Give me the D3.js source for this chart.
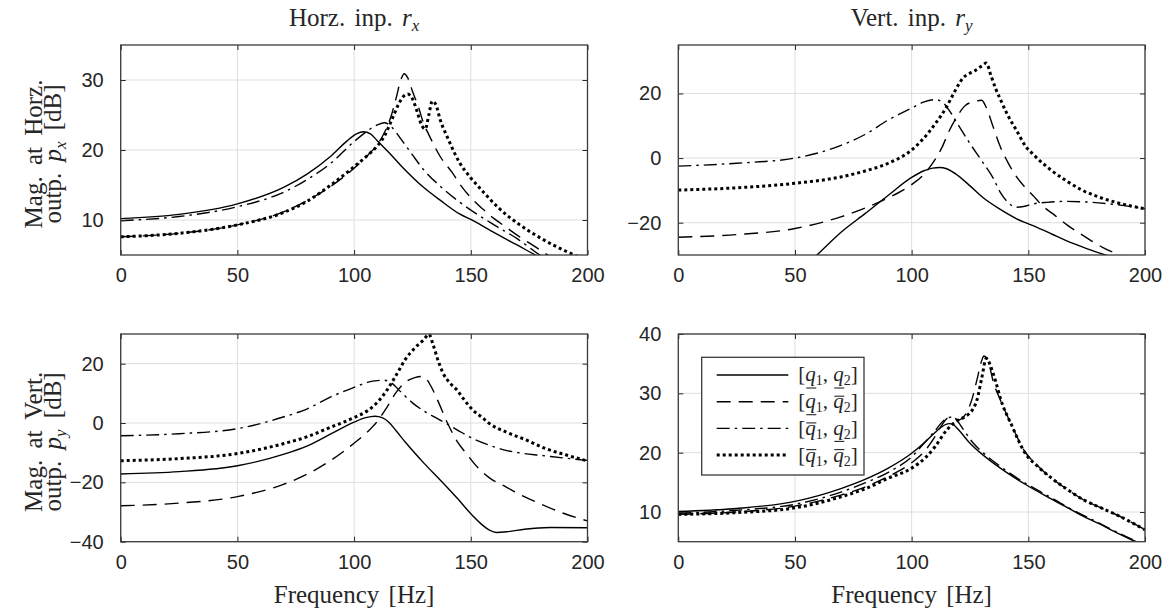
<!DOCTYPE html>
<html>
<head>
<meta charset="utf-8">
<script src="https://cdn.jsdelivr.net/npm/d3@7"></script>
<style>
  body { margin: 0; background: #fff; }
  svg { display: block; }
</style>
</head>
<body>
<svg id="fig" width="1173" height="613"></svg>
<script>
// ---- tick values ----
const freqTicks = [0, 50, 100, 150, 200];
const ticksHxHin = [10, 20, 30];
const ticksHxVin = [-20, 0, 20];
const ticksVyHin = [-40, -20, 0, 20];
const ticksVyVin = [10, 20, 30, 40];

// ---- magnitude responses [frequency Hz, dB] ----
// output p_x, input r_x
const hxHinQ1Q2 = [[0,10.2],[25,10.8],[50,12.3],[70,14.7],[80,16.6],[90,19.1],[97,21.3],[101,22.3],[104,22.6],[107,22.3],[110,21.3],[115,19.6],[120,17.8],[130,14.6],[137,12.8],[145,10.9],[151,9.9],[160,8.2],[170,6.4],[180,4.6],[190,3.2]];
const hxHinQ1Qb2 = [[0,7.6],[25,8.1],[50,9.3],[70,11.2],[80,12.8],[90,14.8],[100,17.4],[106,19.3],[110,20.8],[113,22.5],[116,25.0],[118,27.4],[120,30.0],[121.5,30.9],[123,30.3],[125,28.4],[127.5,26.2],[130,23.6],[132,22.2],[137,19.0],[142,16.8],[146,14.8],[150,13.2],[155,11.6],[160,10.2],[165,9.0],[170,7.8],[177,6.3],[183,5.0],[190,3.8]];
const hxHinQb1Q2 = [[0,9.9],[25,10.5],[50,11.9],[70,14.0],[80,15.8],[90,18.1],[100,21.2],[106,22.8],[110,23.6],[113,23.9],[116,23.3],[120,21.6],[125,19.3],[130,17.1],[137,14.8],[145,12.6],[151,11.2],[160,9.3],[170,7.3],[180,4.9],[190,3.0]];
const hxHinQb1Qb2 = [[0,7.6],[25,8.1],[50,9.3],[70,11.1],[80,12.7],[90,15.0],[100,17.6],[106,19.3],[110,20.6],[113,22.0],[116,24.2],[119,26.5],[121,27.6],[123,28.0],[125,27.3],[127,25.5],[129,23.5],[130.5,23.0],[132,25.0],[133.5,27.0],[135,26.5],[137,24.2],[140,21.8],[145,18.3],[150,16.0],[154,14.5],[162,11.7],[171,9.3],[180,7.4],[191,5.5],[200,4.2]];

// output p_x, input r_y
const hxVinQ1Q2 = [[56,-32.5],[60,-29.6],[64,-26.8],[70,-22.8],[80,-17.2],[90,-11.5],[100,-6.0],[105,-4.0],[109,-3.1],[112,-2.9],[115,-3.3],[120,-5.5],[125,-8.6],[130,-11.9],[138,-15.9],[145,-18.8],[152,-20.9],[160,-23.5],[166,-25.5],[175,-28.0],[184,-30.2],[190,-31.5]];
const hxVinQ1Qb2 = [[0,-24.5],[25,-23.7],[50,-21.8],[70,-18.1],[80,-15.5],[90,-12.3],[100,-8.2],[105,-5.2],[110,-0.5],[113,3.3],[116,8.3],[120,13.5],[123,16.3],[127,17.5],[130,17.9],[132,15.6],[135,9.5],[138,3.5],[141,-1.0],[144,-4.8],[148.5,-9.0],[152,-11.6],[156,-14.7],[161.5,-17.8],[167,-20.9],[172,-23.3],[177,-25.6],[182,-27.7],[188,-29.7],[195,-32]];
const hxVinQb1Q2 = [[0,-2.5],[25,-1.6],[50,0.0],[70,4.0],[80,7.3],[90,11.8],[100,15.5],[105,17.3],[110,18.1],[113,17.4],[117,13.8],[120,10.2],[125,4.5],[130,-0.8],[135,-6.3],[138,-10.6],[141,-13.5],[145,-15.2],[148,-15.0],[152,-14.2],[158,-13.7],[166,-13.4],[175,-13.6],[185,-14.2],[200,-15.7]];
const hxVinQb1Qb2 = [[0,-9.9],[25,-9.2],[50,-7.8],[70,-5.8],[80,-4.0],[90,-1.6],[100,2.5],[105,6.0],[110,10.5],[115,15.9],[118,20.0],[120,22.6],[122,24.8],[124,25.9],[127,27.0],[130,28.5],[132,29.4],[134,25.5],[136,21.5],[138,18.2],[141,13.5],[145,8.5],[149,3.5],[152,1.2],[159,-3.3],[166,-6.9],[173,-9.9],[180,-12.0],[188,-13.8],[200,-15.7]];

// output p_y, input r_x
const vyHinQ1Q2 = [[0,-17.2],[25,-16.4],[50,-14.4],[70,-10.5],[80,-7.7],[90,-3.7],[100,0.3],[105,1.8],[109,2.3],[112,1.8],[115,0.2],[118,-2.6],[122,-6.5],[130,-13.6],[137,-19.3],[144,-25.2],[151,-31.4],[155,-34.4],[158,-36.1],[161,-36.9],[166,-36.6],[173,-35.8],[184,-35.2],[200,-35.3]];
const vyHinQ1Qb2 = [[0,-27.9],[25,-27.0],[50,-24.8],[70,-20.6],[80,-17.2],[90,-12.6],[100,-6.8],[106,-2.8],[110,0.6],[114,5.2],[118,10.3],[122,13.8],[126,15.3],[129,15.7],[131,14.8],[133,12.3],[136,7.3],[140,0.0],[144,-6.0],[148,-10.2],[153,-15.0],[158,-18.5],[165,-21.5],[172,-24.5],[180,-27.3],[190,-30.5],[200,-33.0]];
const vyHinQb1Q2 = [[0,-4.3],[25,-3.6],[50,-1.9],[70,2.1],[80,4.8],[90,8.8],[100,12.0],[106,13.8],[110,14.3],[113,14.4],[116,13.5],[120,10.5],[125,6.8],[130,4.0],[135,1.8],[140,-0.4],[145,-2.7],[151,-5.3],[158,-7.5],[165,-9.2],[172,-10.2],[180,-10.9],[190,-11.8],[200,-12.6]];
const vyHinQb1Qb2 = [[0,-12.7],[25,-12.0],[50,-10.3],[70,-6.9],[80,-4.6],[90,-1.4],[100,1.8],[106,4.3],[110,7.0],[114,11.0],[118,16.1],[122,21.5],[126,25.3],[130,28.2],[132,29.9],[134,26.0],[136,21.0],[138,17.0],[141,13.5],[144,11.2],[147,8.0],[151,4.3],[155,1.8],[158,-0.2],[165,-3.0],[174,-5.8],[182,-8.6],[191,-10.8],[200,-12.8]];

// output p_y, input r_y
const vyVinQ1Q2 = [[0,10.1],[25,10.6],[50,11.8],[70,14.0],[80,15.5],[90,17.4],[100,19.9],[106,21.9],[110,23.4],[113,24.4],[116,24.9],[118,24.7],[120,23.9],[125,21.6],[130,19.8],[138,17.4],[149,14.6],[158,12.6],[166,10.9],[173,9.4],[181,7.9],[188,6.5],[195,5.2],[200,4.4]];
const vyVinQ1Qb2 = [[0,9.6],[25,10.0],[50,11.0],[70,12.9],[80,14.2],[90,16.0],[100,18.3],[105,20.0],[110,22.7],[113,24.7],[116,25.9],[118,25.9],[120,25.5],[123,26.4],[126,29.2],[128,32.3],[130,35.5],[131,36.3],[133,35.1],[135,31.9],[138,28.9],[143,24.5],[148.5,20.2],[154,17.8],[159,16.0],[166,14.0],[173.5,12.1],[180,10.9],[188,9.5],[194,8.3],[200,7.0]];
const vyVinQb1Q2 = [[0,9.8],[25,10.3],[50,11.3],[70,13.4],[80,14.9],[90,16.7],[100,19.3],[106,21.9],[110,23.7],[114,25.5],[117,26.0],[119,25.6],[122,24.0],[126,21.8],[130,20.2],[138,17.7],[149,14.8],[158,12.8],[166,11.0],[181,8.0],[195,5.3],[200,4.5]];
const vyVinQb1Qb2 = [[0,9.6],[25,9.9],[50,10.7],[70,12.6],[80,13.9],[90,15.7],[100,17.4],[106,19.2],[110,21.0],[115,23.8],[120,25.5],[123,26.1],[126,27.2],[128,28.9],[130,32.5],[132,35.9],[134,34.4],[136,32.0],[138,29.2],[143,24.5],[148.5,20.0],[154,17.7],[159,16.0],[166,14.0],[173.5,12.1],[180,10.9],[188,9.5],[194,8.3],[200,7.0]];

// legend: bound combination per entry ("lo" = underline, "hi" = bar)
const legendBounds = [["lo","lo"],["lo","hi"],["hi","lo"],["hi","hi"]];

// ---- line styles in series order: solid, dashed, dash-dot, dotted ----
const lineStyles = [
  { dash: null,         width: 1.4 },
  { dash: "14,8",       width: 1.4 },
  { dash: "13,5,2.5,5", width: 1.4 },
  { dash: "3,3",        width: 3.0 }
];

const TEXT = "#262626";
const SERIF = "'Liberation Serif', 'Times New Roman', serif";
const SANS = "'Liberation Sans', Arial, Helvetica, sans-serif";

const svg = d3.select("#fig");
const defs = svg.append("defs");

const panels = [
  { x: 120.7, y: 45,  w: 466.8, h: 210,   yDomain: [5, 35],   yTicks: ticksHxHin,
    series: [hxHinQ1Q2, hxHinQ1Qb2, hxHinQb1Q2, hxHinQb1Qb2],
    title: ["Horz. inp. ", "r", "x"], ylab: ["Mag. at Horz.", "x"] },
  { x: 678.3, y: 45,  w: 466.7, h: 210,   yDomain: [-30, 35], yTicks: ticksHxVin,
    series: [hxVinQ1Q2, hxVinQ1Qb2, hxVinQb1Q2, hxVinQb1Qb2],
    title: ["Vert. inp. ", "r", "y"] },
  { x: 120.7, y: 334, w: 466.8, h: 207.7, yDomain: [-40, 30], yTicks: ticksVyHin,
    series: [vyHinQ1Q2, vyHinQ1Qb2, vyHinQb1Q2, vyHinQb1Qb2],
    ylab: ["Mag. at Vert.", "y"], xlab: true },
  { x: 678.3, y: 334, w: 466.7, h: 207.7, yDomain: [5, 40],   yTicks: ticksVyVin,
    series: [vyVinQ1Q2, vyVinQ1Qb2, vyVinQb1Q2, vyVinQb1Qb2],
    xlab: true, legend: true }
];

panels.forEach((p, i) => {
  const g = svg.append("g").attr("transform", `translate(${p.x},${p.y})`);
  const x = d3.scaleLinear().domain([0, 200]).range([0, p.w]);
  const y = d3.scaleLinear().domain(p.yDomain).range([p.h, 0]);

  // grid
  const grid = g.append("g").attr("stroke", "#dedede").attr("stroke-width", 1);
  grid.selectAll("line.gx").data(freqTicks).join("line")
    .attr("x1", d => x(d)).attr("x2", d => x(d)).attr("y1", 0).attr("y2", p.h);
  grid.selectAll("line.gy").data(p.yTicks).join("line")
    .attr("y1", d => y(d)).attr("y2", d => y(d)).attr("x1", 0).attr("x2", p.w);

  // data lines
  defs.append("clipPath").attr("id", "clip" + i)
    .append("rect").attr("width", p.w).attr("height", p.h);
  const line = d3.line().x(d => x(d[0])).y(d => y(d[1])).curve(d3.curveMonotoneX);
  const lines = g.append("g").attr("clip-path", `url(#clip${i})`);
  p.series.forEach((s, k) => {
    const st = lineStyles[k];
    lines.append("path").attr("d", line(s))
      .attr("fill", "none").attr("stroke", "#000")
      .attr("stroke-width", st.width)
      .attr("stroke-dasharray", st.dash)
      .attr("stroke-linejoin", "round");
  });

  // axes (inward ticks on all sides)
  const tk = 5;
  const styleAxis = a => {
    a.select(".domain").remove();
    a.selectAll(".tick line").attr("stroke", TEXT).attr("stroke-width", 1);
    a.selectAll("text").attr("fill", TEXT).style("font-family", SANS).style("font-size", "20px");
  };
  g.append("g").attr("transform", `translate(0,${p.h})`)
    .call(d3.axisBottom(x).tickValues(freqTicks).tickSize(-tk).tickPadding(13))
    .call(styleAxis);
  g.append("g")
    .call(d3.axisTop(x).tickValues(freqTicks).tickSize(-tk).tickFormat(""))
    .call(styleAxis);
  g.append("g")
    .call(d3.axisLeft(y).tickValues(p.yTicks).tickSize(-tk).tickPadding(17))
    .call(styleAxis);
  g.append("g").attr("transform", `translate(${p.w},0)`)
    .call(d3.axisRight(y).tickValues(p.yTicks).tickSize(-tk).tickFormat(""))
    .call(styleAxis);

  // box
  g.append("rect").attr("width", p.w).attr("height", p.h)
    .attr("fill", "none").attr("stroke", "#3a3a3a").attr("stroke-width", 1.3);

  // title
  if (p.title) {
    const t = svg.append("text")
      .attr("x", p.x + p.w / 2).attr("y", 26)
      .attr("text-anchor", "middle").attr("fill", TEXT)
      .style("font-family", SERIF).style("font-size", "25px")
      .style("word-spacing", "3px");
    t.append("tspan").text(p.title[0]);
    t.append("tspan").style("font-style", "italic").text(p.title[1]);
    t.append("tspan").style("font-style", "italic").style("font-size", "17px")
      .attr("dy", 5).text(p.title[2]);
  }

  // y label (two lines)
  if (p.ylab) {
    const cy = p.y + p.h / 2;
    svg.append("text")
      .attr("transform", `translate(42,${cy + 4}) rotate(-90)`)
      .attr("text-anchor", "middle").attr("fill", TEXT)
      .style("font-family", SERIF).style("font-size", "25px")
      .style("word-spacing", "5px")
      .text(p.ylab[0]);
    const t2 = svg.append("text")
      .attr("transform", `translate(61,${cy + 4}) rotate(-90)`)
      .attr("text-anchor", "middle").attr("fill", TEXT)
      .style("font-family", SERIF).style("font-size", "25px")
      .style("word-spacing", "5px");
    t2.append("tspan").text("outp. ");
    t2.append("tspan").style("font-style", "italic").text("p");
    t2.append("tspan").style("font-style", "italic").style("font-size", "17px")
      .attr("dy", 5).text(p.ylab[1]);
    t2.append("tspan").attr("dy", -5).text(" [dB]");
  }

  // x label
  if (p.xlab) {
    svg.append("text")
      .attr("x", p.x + p.w / 2).attr("y", 603)
      .attr("text-anchor", "middle").attr("fill", TEXT)
      .style("font-family", SERIF).style("font-size", "25px")
      .style("word-spacing", "3px")
      .text("Frequency [Hz]");
  }

  // legend
  if (p.legend) {
    const lx = 701.7 - p.x, ly = 357.3 - p.y, lw = 162.3, lh = 117.7;
    const lg = g.append("g").attr("transform", `translate(${lx},${ly})`);
    lg.append("rect").attr("width", lw).attr("height", lh)
      .attr("fill", "#fff").attr("stroke", "#3a3a3a").attr("stroke-width", 1.3);
    legendBounds.forEach((b, k) => {
      const ry = 17.7 + k * 26.7;
      const st = lineStyles[k];
      lg.append("line").attr("x1", 15).attr("x2", 86.6).attr("y1", ry).attr("y2", ry)
        .attr("stroke", "#000").attr("stroke-width", st.width)
        .attr("stroke-dasharray", st.dash);
      const t = lg.append("text").attr("x", 96.6).attr("y", ry + 6.5)
        .attr("fill", TEXT).style("font-family", SERIF).style("font-size", "21px");
      t.append("tspan").text("[");
      t.append("tspan").style("font-style", "italic").text("q");
      t.append("tspan").style("font-size", "14px").attr("dy", 4).text("1");
      t.append("tspan").attr("dy", -4).text(", ");
      t.append("tspan").style("font-style", "italic").text("q");
      t.append("tspan").style("font-size", "14px").attr("dy", 4).text("2");
      t.append("tspan").attr("dy", -4).text("]");
      // bound marks over / under each q
      [1, 5].forEach((ci, j) => {
        const e = t.node().getExtentOfChar(ci);
        const base = ry + 6.5;
        const yy = b[j] === "lo" ? base + 6.5 : base - 12;
        lg.append("line")
          .attr("x1", e.x + 1).attr("x2", e.x + e.width + 0.5)
          .attr("y1", yy).attr("y2", yy)
          .attr("stroke", TEXT).attr("stroke-width", 1.1);
      });
    });
  }
});
</script>
</body>
</html>
